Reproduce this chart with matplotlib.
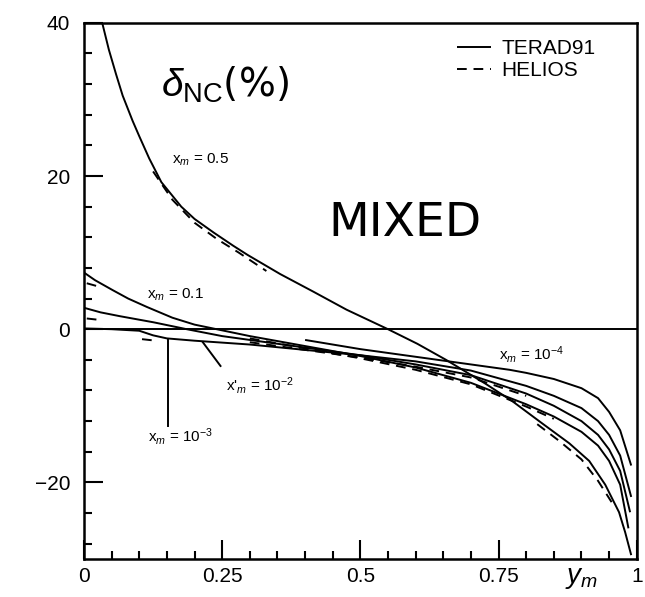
import matplotlib
matplotlib.use('Agg')
import matplotlib.pyplot as plt
from matplotlib.ticker import MultipleLocator

plt.rcParams['font.family'] = ['Liberation Sans', 'DejaVu Sans']
plt.rcParams['mathtext.fontset'] = 'custom'
plt.rcParams['mathtext.rm'] = 'Liberation Sans'
plt.rcParams['mathtext.it'] = 'Liberation Sans:italic'
plt.rcParams['mathtext.bf'] = 'Liberation Sans:bold'

# ---------------- data ----------------
# TERAD91 (solid)
x_05 = [0.033, 0.045, 0.058, 0.07, 0.088, 0.10, 0.118, 0.14, 0.176, 0.20, 0.235, 0.27,
        0.296, 0.355, 0.415, 0.475, 0.55, 0.603, 0.655, 0.726, 0.775, 0.829, 0.878,
        0.914, 0.943, 0.968, 0.979, 0.99]
y_05 = [40.0, 36.5, 33.3, 30.5, 27.2, 25.2, 22.3, 19.2, 16.0, 14.4, 12.6, 10.9,
        9.7, 7.2, 4.9, 2.55, 0.0, -1.9, -4.0, -7.1, -9.4, -12.3, -14.9,
        -17.2, -20.3, -23.9, -26.5, -29.5]

x_01 = [0.0, 0.02, 0.052, 0.08, 0.114, 0.16, 0.20, 0.24, 0.30, 0.40, 0.50, 0.60,
        0.70, 0.80, 0.85, 0.90, 0.93, 0.95, 0.97, 0.985]
y_01 = [7.4, 6.4, 5.1, 4.0, 2.9, 1.5, 0.6, 0.0, -0.9, -2.2, -3.5, -5.0,
        -7.0, -9.8, -11.4, -13.4, -15.2, -17.2, -20.3, -26.0]

x_1em2 = [0.0, 0.03, 0.065, 0.126, 0.186, 0.25, 0.30, 0.40, 0.50, 0.60, 0.70, 0.80,
          0.85, 0.90, 0.93, 0.95, 0.97, 0.988]
y_1em2 = [2.8, 2.2, 1.7, 0.9, 0.0, -0.9, -1.4, -2.4, -3.4, -4.6, -6.0, -8.4,
          -10.0, -12.0, -13.8, -15.7, -18.5, -23.9]

x_1em3 = [0.0, 0.05, 0.10, 0.125, 0.15, 0.20, 0.30, 0.40, 0.50, 0.60, 0.70, 0.80,
          0.85, 0.90, 0.93, 0.95, 0.97, 0.99]
y_1em3 = [0.1, 0.0, -0.2, -0.8, -1.2, -1.5, -2.0, -2.7, -3.4, -4.2, -5.4, -7.4,
          -8.7, -10.3, -12.0, -13.8, -16.5, -21.9]

x_1em4 = [0.40, 0.45, 0.50, 0.60, 0.70, 0.77, 0.80, 0.85, 0.90, 0.93, 0.95, 0.97, 0.99]
y_1em4 = [-1.4, -2.0, -2.6, -3.6, -4.6, -5.3, -5.7, -6.5, -7.7, -9.0, -10.8, -13.2, -17.8]

# HELIOS (dashed) - visible pieces
hx_05a = [0.125, 0.16, 0.20, 0.24, 0.28, 0.33]
hy_05a = [20.6, 16.9, 13.9, 11.8, 10.0, 7.6]
hx_05b = [0.82, 0.86, 0.90, 0.93, 0.96]
hy_05b = [-12.4, -14.6, -17.0, -19.8, -23.2]
hx_01 = [0.30, 0.40, 0.50, 0.60, 0.70, 0.80, 0.85]
hy_01 = [-1.2, -2.5, -3.8, -5.3, -7.2, -10.1, -11.7]
hx_1em2 = [0.30, 0.40, 0.50, 0.60, 0.70, 0.80]
hy_1em2 = [-1.7, -2.7, -3.7, -4.9, -6.3, -8.7]
hx_01_left = [0.005, 0.03]
hy_01_left = [6.0, 5.5]
hx_1em2_left = [0.005, 0.03]
hy_1em2_left = [1.4, 1.2]
hx_1em3_left = [0.105, 0.13]
hy_1em3_left = [-1.3, -1.5]

# leader lines for labels
lead_1em3_x = [0.152, 0.152]
lead_1em3_y = [-1.3, -12.7]
lead_1em2_x = [0.215, 0.247]
lead_1em2_y = [-1.7, -4.8]

xtick_vals = [0, 0.25, 0.5, 0.75, 1.0]
xtick_labels = ['0', '0.25', '0.5', '0.75', '1']
ytick_vals = [-20, 0, 20, 40]
ytick_labels = ['\u221220', '0', '20', '40']

# ---------------- figure ----------------
fig = plt.figure(figsize=(6.45, 5.97), dpi=100)
ax = fig.add_axes([0.1302, 0.0637, 0.857, 0.898])
ax.set_xlim(0, 1)
ax.set_ylim(-30, 40)

lw = 1.4
dash = (0, (5, 3.5))
ax.axhline(0, color='black', lw=lw)

solid_lines = []
for xs, ys in [(x_05, y_05), (x_01, y_01), (x_1em2, y_1em2), (x_1em3, y_1em3), (x_1em4, y_1em4)]:
    l, = ax.plot(xs, ys, color='black', lw=lw, solid_capstyle='butt')
    solid_lines.append(l)

dashed_lines = []
for xs, ys in [(hx_05a, hy_05a), (hx_05b, hy_05b), (hx_01, hy_01), (hx_1em2, hy_1em2),
               (hx_01_left, hy_01_left), (hx_1em2_left, hy_1em2_left), (hx_1em3_left, hy_1em3_left)]:
    l, = ax.plot(xs, ys, color='black', lw=lw, linestyle=dash)
    dashed_lines.append(l)

ax.plot(lead_1em3_x, lead_1em3_y, color='black', lw=lw)
ax.plot(lead_1em2_x, lead_1em2_y, color='black', lw=lw)

# labels
fs_small = 11
ax.text(0.21, 22.1, 'x$_m$ = 0.5', fontsize=fs_small, ha='center', va='center')
ax.text(0.165, 4.5, 'x$_m$ = 0.1', fontsize=fs_small, ha='center', va='center')
ax.text(0.319, -7.3, "x$'_m$ = 10$^{-2}$", fontsize=fs_small, ha='center', va='center')
ax.text(0.174, -14.0, 'x$_m$ = 10$^{-3}$', fontsize=fs_small, ha='center', va='center')
ax.text(0.81, -3.3, 'x$_m$ = 10$^{-4}$', fontsize=fs_small, ha='center', va='center')

ax.text(0.255, 31.9, r'$\delta_{\mathrm{NC}}$(%)', fontsize=28, ha='center', va='center',
        family=['DejaVu Sans'])
ax.text(0.58, 13.8, 'MIXED', fontsize=34, ha='center', va='center', family=['DejaVu Sans'])

ax.legend([solid_lines[0], dashed_lines[0]], ['TERAD91', 'HELIOS'], loc='upper right',
          bbox_to_anchor=(0.925, 0.97), frameon=False, fontsize=15, handlelength=1.6,
          handletextpad=0.5, labelspacing=0.15, borderaxespad=0, borderpad=0)

# axes styling
ax.set_xticks(xtick_vals)
ax.set_xticklabels(xtick_labels)
ax.set_yticks(ytick_vals)
ax.set_yticklabels(ytick_labels)
ax.xaxis.set_minor_locator(MultipleLocator(0.05))
ax.yaxis.set_minor_locator(MultipleLocator(4))
ax.tick_params(which='both', direction='in', top=False, right=False, width=1.5, labelsize=15)
ax.tick_params(which='major', length=14)
ax.tick_params(which='minor', length=6)
ax.tick_params(axis='y', pad=10)
ax.tick_params(axis='x', pad=6)
for s in ax.spines.values():
    s.set_linewidth(1.8)

ax.text(0.9, -30.8, '$y_m$', fontsize=20, ha='center', va='top')

fig.savefig('out.png', dpi=100)
